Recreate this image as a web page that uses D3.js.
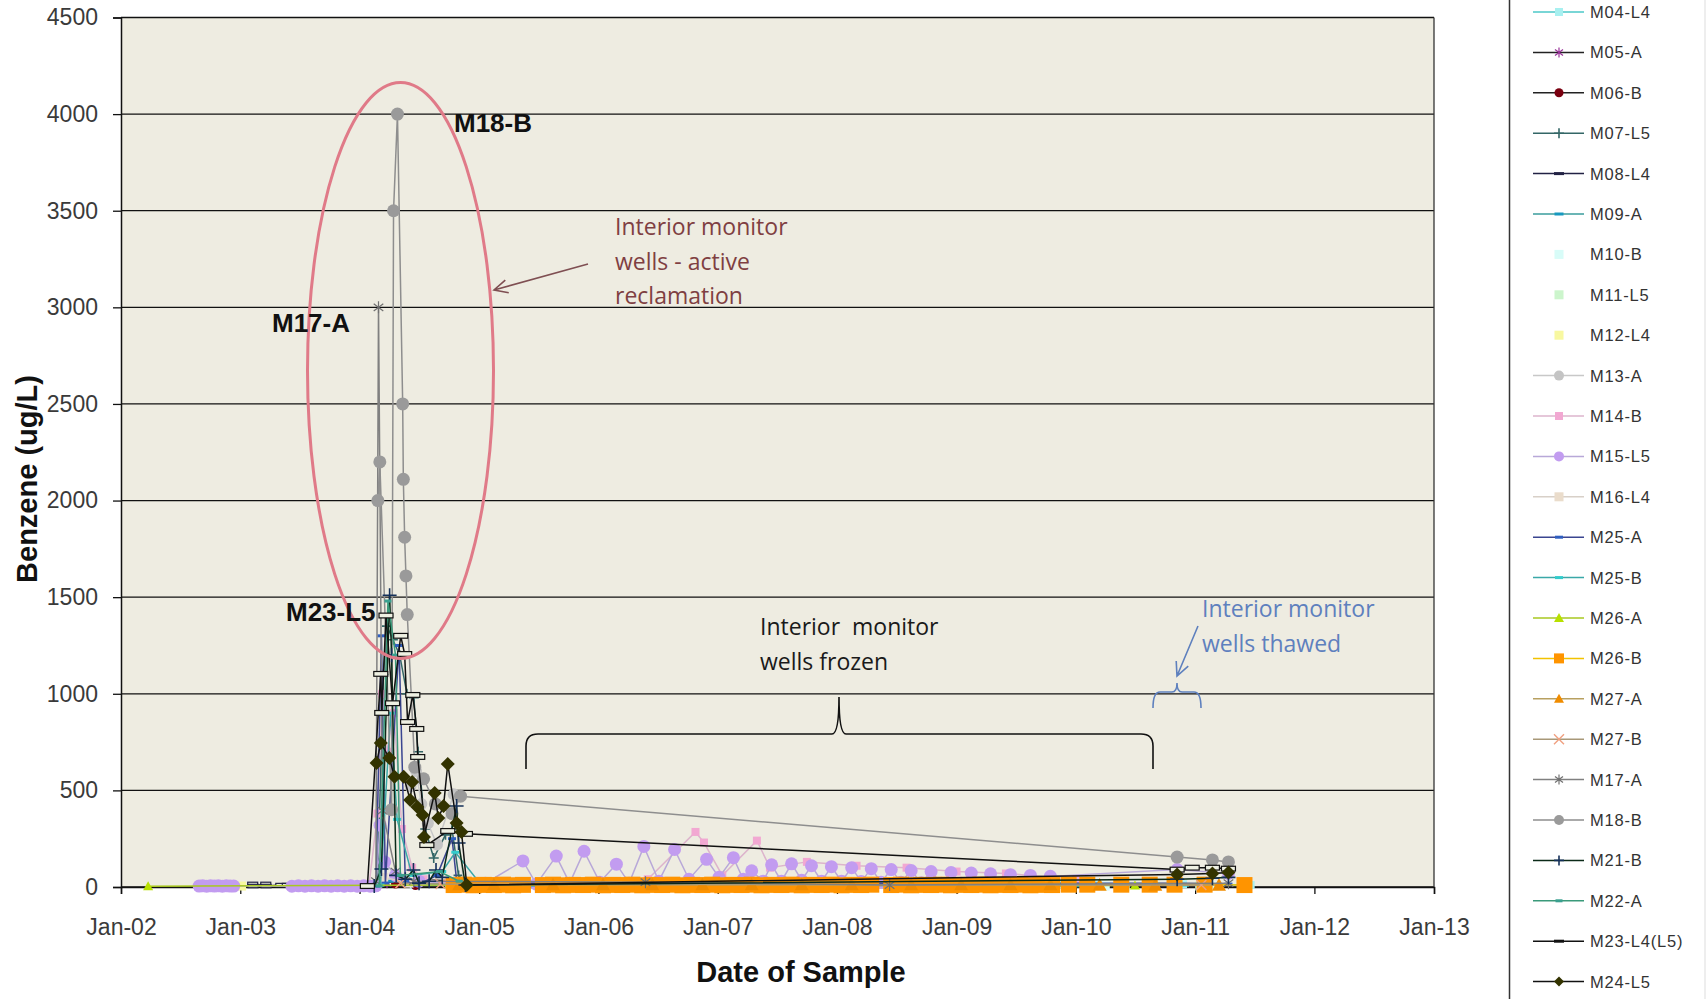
<!DOCTYPE html>
<html>
<head>
<meta charset="utf-8">
<script src="https://cdn.jsdelivr.net/npm/d3@7"></script>
<style>
  body { margin: 0; background: #fff; }
  svg { display: block; }
</style>
</head>
<body>
<div id="chart"></div>
<script>
// ---------- data ----------
const yearTicks = ["2002", "2003", "2004", "2005", "2006", "2007", "2008", "2009", "2010", "2011", "2012", "2013"]
const yTicks = [0, 500, 1000, 1500, 2000, 2500, 3000, 3500, 4000, 4500]

const m04L4 = [["2004-06-15", 10], ["2005-02-01", 6], ["2009-11-20", 12], ["2010-03-10", 10], ["2010-11-25", 14], ["2011-06-20", 10]]
const m05A = [["2004-03-25", 20], ["2004-05-10", 40], ["2006-03-10", 5]]
const m06B = [["2004-04-20", 15], ["2004-06-20", 8]]
const m07L5 = [["2004-02-25", 10], ["2004-03-14", 1100], ["2004-03-25", 1350], ["2004-04-12", 1280], ["2004-05-03", 1200],
  ["2004-05-25", 1000], ["2004-06-15", 980], ["2004-06-28", 700], ["2004-07-20", 300], ["2004-08-15", 150],
  ["2004-09-20", 270], ["2004-10-10", 300], ["2004-10-30", 60], ["2004-12-01", 5]]
const m08L4 = [["2003-02-08", 16], ["2003-02-09", 5], ["2003-03-20", 16], ["2003-03-21", 5], ["2003-05-05", 10], ["2003-05-25", 10]]
const m09A = [["2004-04-01", 30], ["2004-07-01", 20], ["2005-01-15", 8], ["2010-01-15", 6]]
const m10B = [["2009-12-10", 5], ["2010-04-01", 5], ["2011-03-01", 5]]
const m11L5 = [["2010-06-01", 5], ["2011-01-15", 5]]
const m12L4 = [["2003-01-05", 5], ["2010-09-01", 5]]
const m13A = [["2004-06-05", 520], ["2004-06-22", 600], ["2004-07-08", 430], ["2004-07-28", 330], ["2004-08-25", 220],
  ["2004-10-15", 480], ["2004-11-15", 20]]
const m14B = [["2004-01-30", 10], ["2004-02-25", 380], ["2004-03-10", 1000], ["2004-03-25", 700], ["2004-04-15", 900],
  ["2004-05-10", 300], ["2004-06-10", 100], ["2004-07-15", 40], ["2004-10-01", 20], ["2005-03-01", 30],
  ["2006-06-01", 40], ["2006-10-25", 285], ["2006-11-20", 230], ["2007-01-15", 60], ["2007-05-01", 240],
  ["2007-06-10", 100], ["2007-10-01", 130], ["2008-03-01", 110], ["2008-08-01", 100], ["2009-01-01", 80],
  ["2009-06-01", 70], ["2010-01-01", 40]]
const m15L5 = [
  ["2002-08-28", 5], ["2002-09-08", 6], ["2002-09-20", 4], ["2002-10-02", 6], ["2002-10-14", 5], ["2002-10-26", 6],
  ["2002-11-07", 4], ["2002-11-19", 6], ["2002-12-01", 5], ["2002-12-12", 5],
  ["2003-06-08", 4], ["2003-06-28", 6], ["2003-07-18", 4], ["2003-08-07", 6], ["2003-08-27", 4], ["2003-09-16", 6],
  ["2003-10-06", 4], ["2003-10-26", 6], ["2003-11-15", 4], ["2003-12-05", 6], ["2003-12-25", 4], ["2004-01-14", 6],
  ["2004-02-03", 4], ["2004-02-20", 6],
  ["2004-03-04", 320], ["2004-03-18", 130], ["2004-04-20", 60], ["2004-07-01", 30], ["2004-11-01", 15],
  ["2005-01-20", 20], ["2005-05-15", 135], ["2005-06-25", 15], ["2005-08-25", 160], ["2005-10-05", 20],
  ["2005-11-18", 185], ["2006-01-05", 25], ["2006-02-25", 118], ["2006-04-05", 20], ["2006-05-20", 210],
  ["2006-07-05", 30], ["2006-08-22", 194], ["2006-10-05", 40], ["2006-11-28", 143], ["2007-01-05", 50],
  ["2007-02-18", 152], ["2007-03-20", 40], ["2007-04-15", 84], ["2007-05-20", 30],
  ["2007-06-15", 115], ["2007-07-15", 30], ["2007-08-15", 120], ["2007-09-15", 35], ["2007-10-15", 110],
  ["2007-11-15", 30], ["2007-12-15", 105], ["2008-01-15", 30], ["2008-02-15", 100], ["2008-03-15", 28],
  ["2008-04-15", 95], ["2008-05-15", 25], ["2008-06-15", 90], ["2008-07-15", 25], ["2008-08-15", 85],
  ["2008-09-15", 22], ["2008-10-15", 80], ["2008-11-15", 20], ["2008-12-15", 75], ["2009-01-15", 20],
  ["2009-02-15", 72], ["2009-03-15", 18], ["2009-04-15", 68], ["2009-05-15", 18], ["2009-06-15", 64],
  ["2009-07-15", 15], ["2009-08-15", 60], ["2009-09-15", 15], ["2009-10-15", 55], ["2010-11-07", 90],
  ["2011-04-13", 70]]
const m16L4 = [["2004-03-15", 50], ["2004-06-01", 20]]
const m25A = [["2004-02-20", 5], ["2004-03-08", 1300], ["2004-03-20", 20], ["2004-05-01", 1250], ["2004-05-20", 30],
  ["2004-06-25", 10], ["2004-08-25", 60], ["2004-10-10", 250], ["2004-10-25", 20], ["2010-11-07", 20], ["2011-04-13", 15]]
const m25B = [["2004-03-05", 10], ["2004-04-05", 900], ["2004-04-25", 350], ["2004-06-10", 60], ["2004-09-10", 80],
  ["2004-10-20", 180], ["2005-01-10", 5], ["2010-12-01", 10]]
const m26A = [["2002-03-25", 4], ["2004-10-01", 10], ["2010-07-01", 8]]
const m26B = [
  ["2004-10-15", 10], ["2004-11-15", 12], ["2004-12-15", 9], ["2005-01-15", 11], ["2005-02-15", 10], ["2005-03-15", 12],
  ["2005-04-15", 9], ["2005-05-15", 11],
  ["2005-07-15", 10], ["2005-08-15", 12], ["2005-09-15", 9], ["2005-10-15", 11], ["2005-11-15", 10], ["2005-12-15", 12],
  ["2006-01-15", 9], ["2006-02-15", 11], ["2006-03-15", 10], ["2006-04-15", 12], ["2006-05-15", 9], ["2006-06-15", 11],
  ["2006-07-15", 10], ["2006-08-15", 12], ["2006-09-15", 9], ["2006-10-15", 11], ["2006-11-15", 10], ["2006-12-15", 12],
  ["2007-01-15", 9], ["2007-02-15", 11], ["2007-03-15", 10], ["2007-04-15", 12], ["2007-05-15", 9], ["2007-06-15", 11],
  ["2007-07-15", 10], ["2007-08-15", 12], ["2007-09-15", 9], ["2007-10-15", 11], ["2007-11-15", 10], ["2007-12-15", 12],
  ["2008-01-15", 9], ["2008-02-15", 11], ["2008-03-15", 10], ["2008-04-15", 12],
  ["2008-06-15", 10], ["2008-07-15", 12], ["2008-08-15", 9], ["2008-09-15", 11], ["2008-10-15", 10], ["2008-11-15", 12],
  ["2008-12-15", 9], ["2009-01-15", 11], ["2009-02-15", 10], ["2009-03-15", 12], ["2009-04-15", 9], ["2009-05-15", 11],
  ["2009-06-15", 10], ["2009-07-15", 12], ["2009-08-15", 9], ["2009-09-15", 11], ["2009-10-20", 10], ["2009-12-10", 12],
  ["2010-02-05", 12], ["2010-05-20", 12], ["2010-08-15", 12], ["2010-10-30", 12], ["2011-01-30", 12], ["2011-06-01", 10]]
const m27A = [["2004-11-01", 12], ["2005-02-15", 12], ["2005-08-15", 12], ["2006-01-15", 12], ["2006-06-15", 12],
  ["2006-11-15", 12], ["2007-04-15", 12], ["2007-09-15", 12], ["2008-02-15", 12], ["2008-08-15", 12],
  ["2009-01-15", 12], ["2009-06-15", 12], ["2009-10-15", 12], ["2010-03-15", 10], ["2010-09-01", 10], ["2011-03-15", 10]]
const m27B = [["2004-05-05", 20], ["2004-09-05", 15], ["2011-01-20", 10]]
const m17A = [["2004-02-20", 30], ["2004-02-28", 3000], ["2004-03-11", 395], ["2004-04-20", 80], ["2004-06-15", 30],
  ["2006-05-25", 25], ["2008-06-10", 10], ["2011-04-13", 20]]
const m18B = [["2004-02-26", 2000], ["2004-03-03", 2200], ["2004-04-08", 400], ["2004-04-14", 3500], ["2004-04-26", 4000],
  ["2004-05-12", 2500], ["2004-05-14", 2110], ["2004-05-18", 1810], ["2004-05-22", 1610], ["2004-05-26", 1410],
  ["2004-06-18", 620], ["2004-07-15", 560], ["2004-08-20", 430], ["2004-10-10", 380], ["2004-11-05", 470],
  ["2010-11-07", 155], ["2011-02-23", 140], ["2011-04-13", 130]]
const m21B = [["2004-02-15", 5], ["2004-03-08", 93], ["2004-04-02", 1510], ["2004-04-08", 1200], ["2004-04-22", 60],
  ["2004-05-20", 40], ["2004-06-14", 88], ["2004-07-01", 20], ["2004-08-01", 30], ["2004-08-22", 88],
  ["2004-09-10", 50], ["2004-10-24", 419], ["2004-10-30", 228], ["2004-11-20", 10], ["2010-11-07", 40],
  ["2011-02-23", 45], ["2011-04-13", 50]]
const m22A = [["2004-03-01", 5], ["2004-03-28", 1480], ["2004-04-20", 1200], ["2004-05-05", 60], ["2004-09-01", 80], ["2004-11-01", 30]]
const m23 = [["2004-01-25", 5], ["2004-03-06", 1103], ["2004-03-09", 901], ["2004-03-22", 1405], ["2004-04-11", 951],
  ["2004-05-06", 1300], ["2004-05-18", 1206], ["2004-05-27", 854], ["2004-06-12", 994], ["2004-06-24", 818],
  ["2004-06-27", 673], ["2004-07-25", 217], ["2004-09-27", 290], ["2004-11-20", 275], ["2010-11-07", 90],
  ["2010-12-23", 100], ["2011-02-23", 100], ["2011-04-13", 95]]
const m24 = [["2004-02-22", 642], ["2004-03-06", 745], ["2004-04-01", 668], ["2004-04-17", 570], ["2004-05-15", 570],
  ["2004-06-04", 450], ["2004-06-10", 543], ["2004-06-26", 414], ["2004-07-12", 373], ["2004-07-16", 259],
  ["2004-08-18", 487], ["2004-08-29", 357], ["2004-09-14", 419], ["2004-09-27", 637], ["2004-10-24", 331],
  ["2004-11-08", 285], ["2004-11-24", 10], ["2010-11-07", 65], ["2011-02-23", 70], ["2011-04-13", 75]]

// series in legend order (later ones are drawn on top)
const series = [
  { name: "M04-L4", data: m04L4, line: "#4CC8C8", shape: "square", color: "#A8F0F0", size: 8 },
  { name: "M05-A", data: m05A, line: "#222", shape: "asterisk", color: "#993399", size: 10 },
  { name: "M06-B", data: m06B, line: "#222", shape: "circle", color: "#7A0010", size: 9 },
  { name: "M07-L5", data: m07L5, line: "#336666", shape: "plus", color: "#336666", size: 10 },
  { name: "M08-L4", data: m08L4, line: "#222244", shape: "dash", color: "#222244", size: 10 },
  { name: "M09-A", data: m09A, line: "#3A9C9C", shape: "bar", color: "#1899C0", size: 9 },
  { name: "M10-B", data: m10B, line: null, shape: "square", color: "#D8FCF8", size: 9 },
  { name: "M11-L5", data: m11L5, line: null, shape: "square", color: "#CCF5CC", size: 9 },
  { name: "M12-L4", data: m12L4, line: null, shape: "square", color: "#F8F8A0", size: 9 },
  { name: "M13-A", data: m13A, line: "#C8C8C8", shape: "circle", color: "#C4C4C4", size: 12 },
  { name: "M14-B", data: m14B, line: "#DDB4CC", shape: "square", color: "#F2A8D2", size: 8 },
  { name: "M15-L5", data: m15L5, line: "#B8A8D8", shape: "circle", color: "#C29CF0", size: 13 },
  { name: "M16-L4", data: m16L4, line: "#D8D0C8", shape: "square", color: "#EADCCB", size: 9 },
  { name: "M25-A", data: m25A, line: "#3A4590", shape: "bar", color: "#2F5FC0", size: 8 },
  { name: "M25-B", data: m25B, line: "#3AA8A8", shape: "bar", color: "#33CCCC", size: 8 },
  { name: "M26-A", data: m26A, line: "#A8C820", shape: "triangle", color: "#B8E000", size: 10 },
  { name: "M26-B", data: m26B, line: "#F2C200", shape: "square", color: "#FF9400", size: 16 },
  { name: "M27-A", data: m27A, line: "#B8A060", shape: "triangle", color: "#F08C00", size: 14 },
  { name: "M27-B", data: m27B, line: "#A89878", shape: "x", color: "#F0A080", size: 10 },
  { name: "M17-A", data: m17A, line: "#808080", shape: "asterisk", color: "#707070", size: 12 },
  { name: "M18-B", data: m18B, line: "#8E8E8E", shape: "circle", color: "#9A9A9A", size: 13 },
  { name: "M21-B", data: m21B, line: "#0B2A18", shape: "plus", color: "#14305A", size: 14 },
  { name: "M22-A", data: m22A, line: "#3A9A7A", shape: "bar", color: "#3AA090", size: 7 },
  { name: "M23-L4(L5)", data: m23, line: "#111", shape: "dash", color: "#111", size: 14 },
  { name: "M24-L5", data: m24, line: "#111", shape: "diamond", color: "#333300", size: 14 }
]

// ---------- layout ----------
const width = 1706
const height = 999
const plot = { left: 121, right: 1434, top: 17.5, bottom: 887 }

const parse = d3.timeParse("%Y-%m-%d")
const parseYear = d3.timeParse("%Y")

const x = d3.scaleTime()
  .domain([parseYear("2002"), parseYear("2013")])
  .range([plot.left, plot.right])
const y = d3.scaleLinear().domain([0, 4500]).range([plot.bottom, plot.top])

const svg = d3.select("#chart").append("svg")
  .attr("width", width)
  .attr("height", height)

svg.append("rect").attr("width", width).attr("height", height).attr("fill", "#fff")

// plot background
svg.append("rect")
  .attr("x", plot.left).attr("y", plot.top)
  .attr("width", plot.right - plot.left).attr("height", plot.bottom - plot.top)
  .attr("fill", "#EEECE1")

// gridlines
svg.append("g").selectAll("line")
  .data(yTicks)
  .join("line")
  .attr("x1", plot.left).attr("x2", plot.right)
  .attr("y1", d => y(d)).attr("y2", d => y(d))
  .attr("stroke", "#111").attr("stroke-width", 1.3)

// axes
const yAxis = d3.axisLeft(y).tickValues(yTicks).tickSize(8).tickPadding(15).tickFormat(d3.format("d"))
const gy = svg.append("g").attr("transform", `translate(${plot.left},0)`).call(yAxis)
gy.select(".domain").attr("stroke", "#111").attr("stroke-width", 1.5)
gy.selectAll(".tick line").attr("stroke", "#111").attr("stroke-width", 1.3)
gy.selectAll(".tick text")
  .attr("font-family", "Arial, 'Liberation Sans', sans-serif")
  .attr("font-size", 23).attr("fill", "#3a3a3a")

const xAxis = d3.axisBottom(x)
  .tickValues(yearTicks.map(parseYear))
  .tickSize(7).tickPadding(25)
  .tickFormat(d3.timeFormat("%b-%y"))
const gx = svg.append("g").attr("transform", `translate(0,${plot.bottom})`).call(xAxis)
gx.select(".domain").attr("stroke", "#111").attr("stroke-width", 1.5)
gx.selectAll(".tick line").attr("stroke", "#111").attr("stroke-width", 1.3)
gx.selectAll(".tick text")
  .attr("font-family", "Arial, 'Liberation Sans', sans-serif")
  .attr("font-size", 23).attr("fill", "#3a3a3a")

// right border of the plot
svg.append("line")
  .attr("x1", plot.right).attr("x2", plot.right)
  .attr("y1", plot.top).attr("y2", plot.bottom)
  .attr("stroke", "#333").attr("stroke-width", 1.3)

// ---------- markers ----------
function drawMarker(g, shape, color, s) {
  const h = s / 2
  if (shape === "circle") {
    g.append("circle").attr("r", h).attr("fill", color)
  } else if (shape === "square") {
    g.append("rect").attr("x", -h).attr("y", -h).attr("width", s).attr("height", s).attr("fill", color)
  } else if (shape === "diamond") {
    g.append("path").attr("d", `M0,${-h}L${h},0L0,${h}L${-h},0Z`).attr("fill", color)
  } else if (shape === "triangle") {
    g.append("path").attr("d", `M0,${-h}L${h},${h * 0.8}L${-h},${h * 0.8}Z`).attr("fill", color)
  } else if (shape === "plus") {
    g.append("path").attr("d", `M${-h},0H${h}M0,${-h}V${h}`)
      .attr("stroke", color).attr("stroke-width", 1.6).attr("fill", "none")
  } else if (shape === "x") {
    g.append("path").attr("d", `M${-h},${-h}L${h},${h}M${-h},${h}L${h},${-h}`)
      .attr("stroke", color).attr("stroke-width", 1.4).attr("fill", "none")
  } else if (shape === "asterisk") {
    g.append("path").attr("d", `M0,${-h}V${h}M${-h * 0.8},${-h * 0.6}L${h * 0.8},${h * 0.6}M${-h * 0.8},${h * 0.6}L${h * 0.8},${-h * 0.6}`)
      .attr("stroke", color).attr("stroke-width", 1.2).attr("fill", "none")
  } else if (shape === "dash") {
    g.append("rect").attr("x", -h).attr("y", -s * 0.17).attr("width", s).attr("height", s * 0.34)
      .attr("fill", "#EEF0E2").attr("stroke", color).attr("stroke-width", 1.2)
  } else if (shape === "bar") {
    g.append("rect").attr("x", -h).attr("y", -1.5).attr("width", s).attr("height", 3).attr("fill", color)
  }
}

// ---------- series ----------
const line = d3.line()
  .x(d => x(d.date))
  .y(d => y(d.value))

const dataLayer = svg.append("g")
series.forEach(s => {
  const pts = s.data.map(d => ({ date: parse(d[0]), value: d[1] }))
  const g = dataLayer.append("g")
  if (s.line) {
    g.append("path")
      .datum(pts)
      .attr("d", line)
      .attr("fill", "none")
      .attr("stroke", s.line)
      .attr("stroke-width", 1.5)
  }
  g.selectAll("g.pt")
    .data(pts)
    .join("g")
    .attr("class", "pt")
    .attr("transform", d => `translate(${x(d.date)},${y(d.value)})`)
    .each(function () { drawMarker(d3.select(this), s.shape, s.color, s.size) })
})

// ---------- annotations ----------
const note = svg.append("g")

note.append("ellipse")
  .attr("cx", 400.5).attr("cy", 370.5)
  .attr("rx", 93).attr("ry", 288)
  .attr("fill", "none").attr("stroke", "#E07A88").attr("stroke-width", 3)

// well labels
const bold = "Arial, 'Liberation Sans', sans-serif"
note.append("text").attr("x", 454).attr("y", 132).text("M18-B")
  .attr("font-family", bold).attr("font-weight", "bold").attr("font-size", 26).attr("fill", "#111")
note.append("text").attr("x", 272).attr("y", 332).text("M17-A")
  .attr("font-family", bold).attr("font-weight", "bold").attr("font-size", 26).attr("fill", "#111")
note.append("text").attr("x", 286).attr("y", 621).text("M23-L5")
  .attr("font-family", bold).attr("font-weight", "bold").attr("font-size", 26).attr("fill", "#111")

function arrow(x1, y1, x2, y2, color) {
  const a = Math.atan2(y2 - y1, x2 - x1)
  const len = 15, spread = 0.45
  note.append("path")
    .attr("d", `M${x1},${y1}L${x2},${y2}` +
      `M${x2 - len * Math.cos(a - spread)},${y2 - len * Math.sin(a - spread)}L${x2},${y2}` +
      `L${x2 - len * Math.cos(a + spread)},${y2 - len * Math.sin(a + spread)}`)
    .attr("fill", "none").attr("stroke", color).attr("stroke-width", 1.6)
}

function noteText(lines, x0, y0, dy, color) {
  const t = note.append("text")
    .attr("font-family", "'Open Sans', Lato, sans-serif")
    .attr("font-size", 23).attr("fill", color)
  lines.forEach((l, i) => {
    t.append("tspan").attr("x", x0).attr("y", y0 + i * dy).attr("xml:space", "preserve").text(l)
  })
}

// active reclamation note
noteText(["Interior monitor", "wells - active", "reclamation"], 615, 235, 34.5, "#7F3F42")
arrow(588, 264, 494, 290, "#7F4F52")

// frozen note and brace
noteText(["Interior\u00a0 monitor", "wells frozen"], 760, 635, 35, "#1a1a1a")
note.append("path")
  .attr("d", "M526,769 L526,746 Q526,734 538,734 L832,734 Q839,734 839,697 Q839,734 846,734 L1141,734 Q1153,734 1153,746 L1153,769")
  .attr("fill", "none").attr("stroke", "#111").attr("stroke-width", 1.6)

// thawed note and brace
noteText(["Interior monitor", "wells thawed"], 1202, 617, 35, "#5E80BE")
arrow(1198, 626, 1177, 676, "#5E80BE")
note.append("path")
  .attr("d", "M1153,708 Q1153,692 1160,692 L1172,692 Q1177,692 1177,683 Q1177,692 1182,692 L1194,692 Q1201,692 1201,708")
  .attr("fill", "none").attr("stroke", "#5E80BE").attr("stroke-width", 1.6)

// ---------- axis titles ----------
svg.append("text")
  .attr("transform", "translate(27,479) rotate(-90)")
  .attr("text-anchor", "middle").attr("dy", "0.35em")
  .attr("font-family", bold).attr("font-weight", "bold").attr("font-size", 29).attr("fill", "#111")
  .text("Benzene (ug/L)")

svg.append("text")
  .attr("x", 801).attr("y", 982)
  .attr("text-anchor", "middle")
  .attr("font-family", bold).attr("font-weight", "bold").attr("font-size", 29).attr("fill", "#111")
  .text("Date of Sample")

// ---------- legend ----------
const legend = svg.append("g")
legend.append("rect")
  .attr("x", 1509.5).attr("y", -2).attr("width", 195).attr("height", 1003)
  .attr("fill", "#fff").attr("stroke", "none")
legend.append("line")
  .attr("x1", 1509.5).attr("x2", 1509.5).attr("y1", 0).attr("y2", height)
  .attr("stroke", "#333").attr("stroke-width", 1.5)
legend.append("line")
  .attr("x1", 1705).attr("x2", 1705).attr("y1", 0).attr("y2", height)
  .attr("stroke", "#ddd").attr("stroke-width", 1)

const item = legend.selectAll("g.item")
  .data(series)
  .join("g")
  .attr("class", "item")
  .attr("transform", (d, i) => `translate(0,${12 + i * 40.4})`)

item.filter(d => d.line)
  .append("line")
  .attr("x1", 1533).attr("x2", 1584)
  .attr("stroke", d => d.line).attr("stroke-width", 1.5)

// legend markers are drawn smaller; dashes become plain short bars
item.append("g")
  .attr("transform", "translate(1559,0)")
  .each(function (d) {
    const shape = d.shape === "dash" ? "bar" : d.shape
    drawMarker(d3.select(this), shape, d.color, Math.min(d.size, 10))
  })

item.append("text")
  .attr("x", 1590).attr("y", 6)
  .attr("font-family", "Arial, 'Liberation Sans', sans-serif")
  .attr("font-size", 16.5).attr("letter-spacing", 0.8).attr("fill", "#333")
  .text(d => d.name)
</script>
</body>
</html>
